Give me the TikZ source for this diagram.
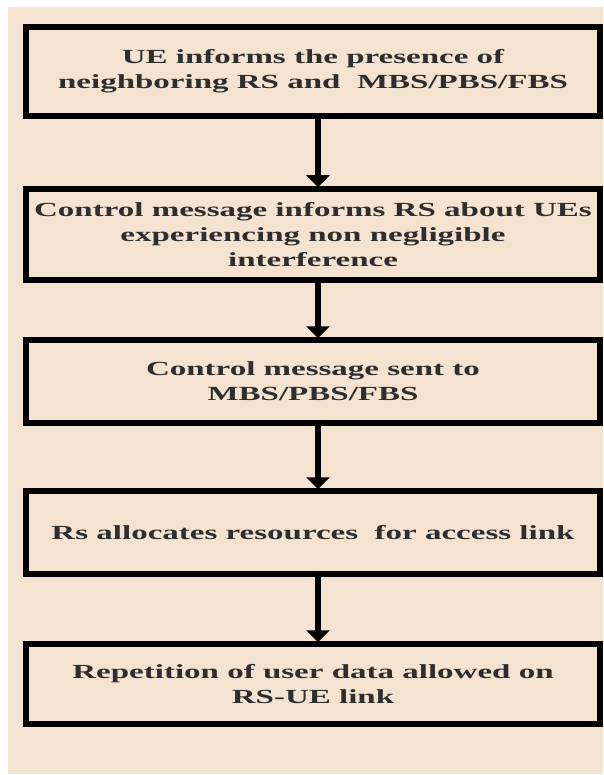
\documentclass[tikz,border=0pt]{standalone}
\usepackage{fontspec}
\setmainfont{Liberation Serif}[FakeStretch=1.65]
\usetikzlibrary{arrows.meta}
\definecolor{paperBg}{RGB}{244,227,208}
\begin{document}
\begin{tikzpicture}[
    x=1pt,y=-1pt,
    flowBox/.style={rectangle,draw=black,line width=5.5pt,fill=paperBg,minimum width=574pt,
        align=center,text=black!82,font=\bfseries\fontsize{20}{25}\selectfont},
    flowArrow/.style={-{Triangle[width=23pt,length=12pt]},line width=6.5pt,shorten >=-1pt},
]
\useasboundingbox (0,0) rectangle (603,775);
\fill[paperBg] (8,7) rectangle (603,774);
% === boxes ===
\node[flowBox,minimum height=89pt] (UE) at (313,71.5) {UE informs the presence of\\ neighboring RS and \ MBS/PBS/FBS};
\node[flowBox,minimum height=91pt] (CM) at (313,234.5) {Control message informs RS about UEs\\ experiencing non negligible\\ interference};
\node[flowBox,minimum height=83pt] (SENT) at (313,381.5) {Control message sent to\\ MBS/PBS/FBS};
\node[flowBox,minimum height=83pt] (RA) at (313,532.5) {Rs allocates resources \ for access link};
\node[flowBox,minimum height=80pt] (REP) at (313,684) {Repetition of user data allowed on\\ RS-UE link};
% === arrows ===
\draw[flowArrow] ([xshift=5pt]UE.south) -- ([xshift=5pt]CM.north);
\draw[flowArrow] ([xshift=5pt]CM.south) -- ([xshift=5pt]SENT.north);
\draw[flowArrow] ([xshift=5pt]SENT.south) -- ([xshift=5pt]RA.north);
\draw[flowArrow] ([xshift=5pt]RA.south) -- ([xshift=5pt]REP.north);
\end{tikzpicture}
\end{document}
